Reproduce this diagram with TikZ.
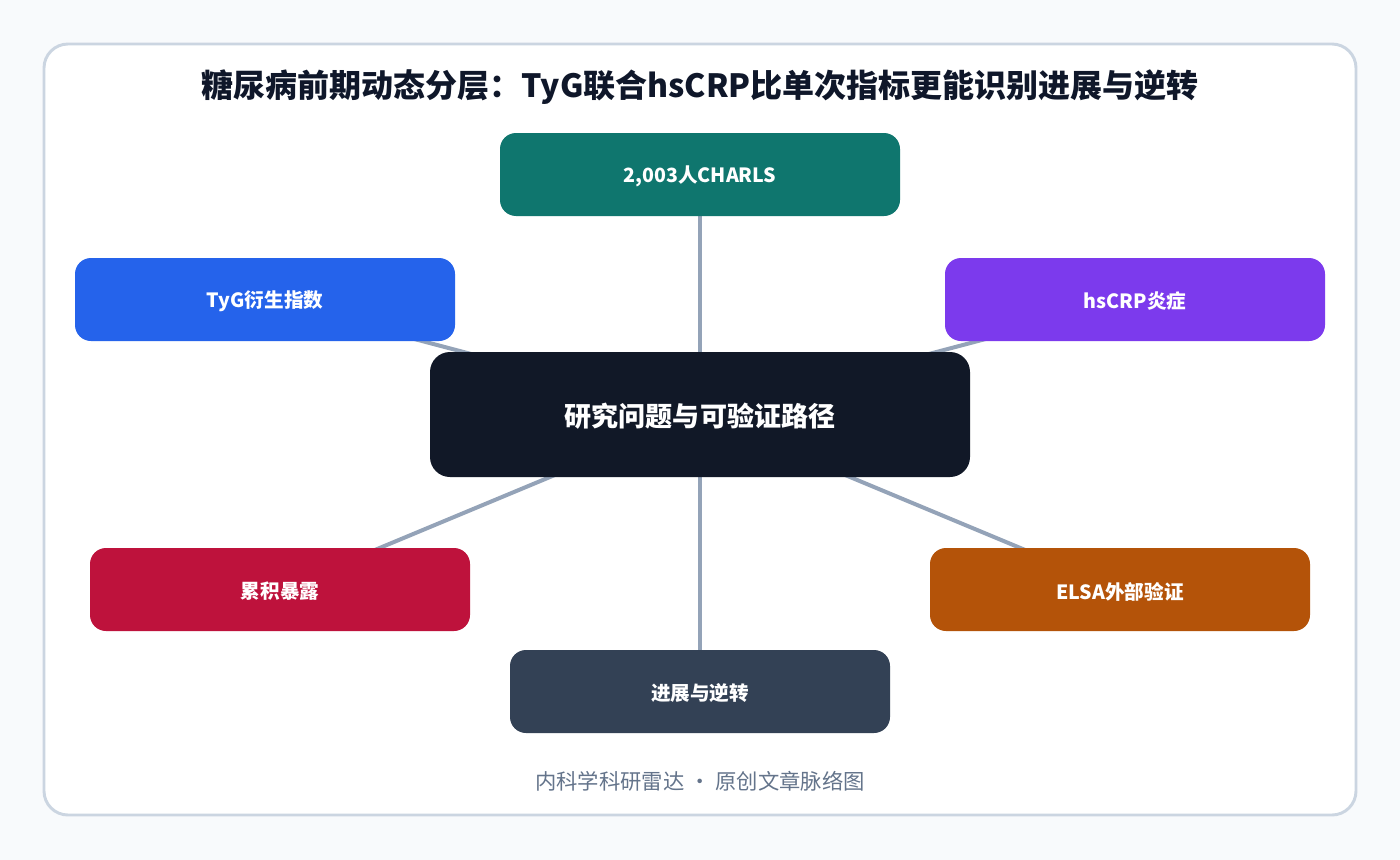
\documentclass[tikz,border=0pt]{standalone}
\usepackage{fontspec}
\setmainfont{Noto Sans CJK SC}
\usetikzlibrary{backgrounds}
\definecolor{pagebg}{HTML}{F8FAFC}
\definecolor{framec}{HTML}{CBD5E1}
\definecolor{edgec}{HTML}{94A3B8}
\definecolor{titlec}{HTML}{0F172A}
\definecolor{footc}{HTML}{64748B}
\definecolor{cteal}{HTML}{0F766E}
\definecolor{cblue}{HTML}{2563EB}
\definecolor{cpurple}{HTML}{7C3AED}
\definecolor{ccrimson}{HTML}{BE123C}
\definecolor{corange}{HTML}{B45309}
\definecolor{cslate}{HTML}{334155}
\definecolor{cdark}{HTML}{111827}
\pgfdeclarelayer{edges}
\pgfsetlayers{background,edges,main}
\newcommand{\lowtext}[1]{\raisebox{-1.5pt}[\height][\depth]{#1}}
\begin{document}
\begin{tikzpicture}[x=0.75pt,y=-0.75pt,
  leaf/.style={rectangle, rounded corners=12pt, minimum width=285pt, minimum height=62.25pt, inner sep=0pt, text=white, font=\fontsize{14.7}{17}\selectfont\bfseries},
  hub/.style={rectangle, rounded corners=15pt, fill=cdark, minimum width=405pt, minimum height=93.75pt, inner sep=0pt, text=white, font=\fontsize{20.3}{23}\selectfont\bfseries},
  edge/.style={draw=edgec, line width=3pt}]
\begin{pgfonlayer}{background}
\fill[pagebg] (0,0) rectangle (1400,860);
\filldraw[fill=white, draw=framec, line width=2.2pt, rounded corners=18pt] (44,44) rectangle (1356,815);
\end{pgfonlayer}
\node[font=\fontsize{24}{28}\selectfont\bfseries, text=titlec] (title) at (700,87) {糖尿病前期动态分层：TyG联合hsCRP比单次指标更能识别进展与逆转};
\node[hub] (hub) at (700,414.5) {\lowtext{研究问题与可验证路径}};
\node[leaf, fill=cteal, minimum width=300pt] (n1) at (700,174.5) {\lowtext{2,003人CHARLS}};
\node[leaf, fill=cblue] (n2) at (265,299.5) {\lowtext{TyG衍生指数}};
\node[leaf, fill=cpurple] (n3) at (1135,299.5) {\lowtext{hsCRP炎症}};
\node[leaf, fill=ccrimson] (n4) at (280,589.5) {\lowtext{累积暴露}};
\node[leaf, fill=corange] (n5) at (1120,589.5) {\lowtext{ELSA外部验证}};
\node[leaf, fill=cslate] (n6) at (700,691.5) {\lowtext{进展与逆转}};
\node[font=\fontsize{16}{19}\selectfont, text=footc] (foot) at (700,781) {内科学科研雷达 · 原创文章脉络图};
\begin{pgfonlayer}{edges}
\foreach \n in {n1,n2,n3,n4,n5,n6} \draw[edge] (hub.center) -- (\n.center);
\end{pgfonlayer}
\end{tikzpicture}
\end{document}
